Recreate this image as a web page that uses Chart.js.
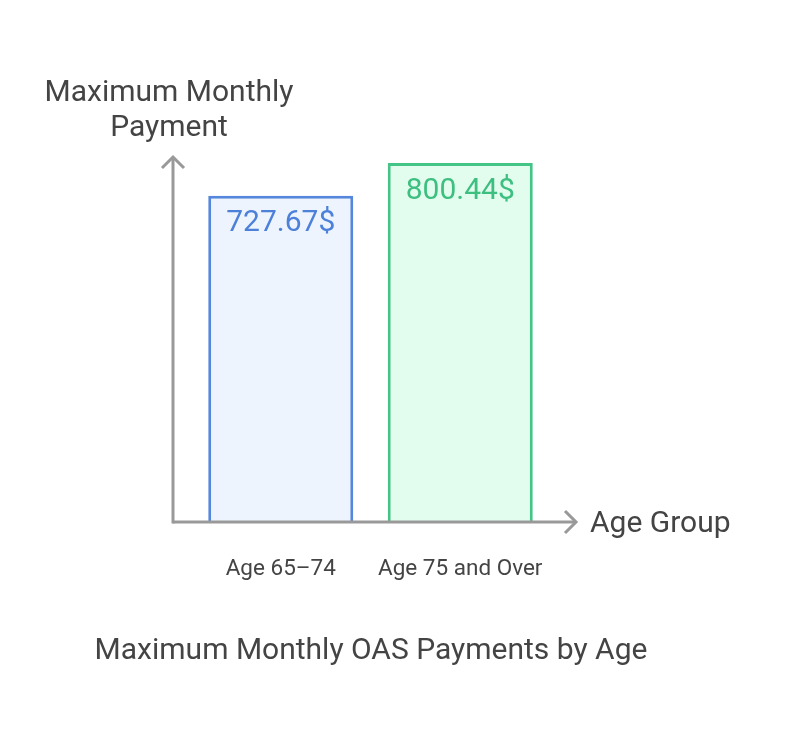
<!DOCTYPE html>
<html>
<head>
<meta charset="utf-8">
<script src="https://cdn.jsdelivr.net/npm/chart.js@4"></script>
<style>
  html, body { margin: 0; padding: 0; background: #fff; }
  #wrap { width: 786px; height: 741px; }
</style>
</head>
<body>
<div id="wrap"><canvas id="myChart"></canvas></div>
<script>
// data
const ageGroups = ["Age 65\u201374", "Age 75 and Over"];
const payments = [727.67, 800.44];
const barFills = ["#edf4fe", "#e2fcee"];
const barLines = ["#5587dc", "#45c487"];
const valueColors = ["#4c80d9", "#3dbf80"];

const yTitle = ["Maximum Monthly", "Payment"];
const xTitle = "Age Group";
const chartTitle = "Maximum Monthly OAS Payments by Age";

const FONT = "Roboto, 'Noto Sans', sans-serif";

// axes with arrows, titles and value labels
const decorPlugin = {
  id: "decor",
  afterDatasetsDraw(chart) {
    const ctx = chart.ctx;
    const area = chart.chartArea;
    const axisX = area.left - 18;
    const axisY = area.bottom;
    ctx.save();
    ctx.strokeStyle = "#999999";
    ctx.lineWidth = 3;
    ctx.lineCap = "butt";
    // y axis
    ctx.beginPath();
    ctx.moveTo(axisX, axisY + 1.5);
    ctx.lineTo(axisX, area.top);
    ctx.stroke();
    ctx.beginPath();
    ctx.moveTo(axisX - 11, area.top + 11);
    ctx.lineTo(axisX, area.top);
    ctx.lineTo(axisX + 11, area.top + 11);
    ctx.stroke();
    // x axis
    const xEnd = area.right + 26;
    ctx.beginPath();
    ctx.moveTo(axisX, axisY);
    ctx.lineTo(xEnd, axisY);
    ctx.stroke();
    ctx.beginPath();
    ctx.moveTo(xEnd - 11, axisY - 11);
    ctx.lineTo(xEnd, axisY);
    ctx.lineTo(xEnd - 11, axisY + 11);
    ctx.stroke();

    ctx.fillStyle = "#444444";
    ctx.textBaseline = "middle";
    ctx.font = "30px " + FONT;
    ctx.textAlign = "left";
    ctx.fillText(xTitle, xEnd + 14, axisY + 2);
    ctx.textAlign = "center";
    ctx.fillText(yTitle[0], axisX - 4, 93);
    ctx.fillText(yTitle[1], axisX - 4, 128);
    ctx.fillText(chartTitle, 371, 651);

    // value labels inside bars
    const meta = chart.getDatasetMeta(0);
    ctx.font = "30px " + FONT;
    meta.data.forEach(function (bar, i) {
      ctx.fillStyle = valueColors[i];
      ctx.fillText(payments[i].toFixed(2) + "$", bar.x, bar.y + 28);
    });
    ctx.restore();
  }
};

new Chart("myChart", {
  type: "bar",
  data: {
    labels: ageGroups,
    datasets: [{
      data: payments,
      backgroundColor: barFills,
      borderColor: barLines,
      borderWidth: 3,
      borderSkipped: "bottom",
      barPercentage: 1,
      categoryPercentage: 0.808
    }]
  },
  options: {
    responsive: true,
    maintainAspectRatio: false,
    animation: false,
    layout: {
      padding: { left: 191, right: 236, top: 157, bottom: 124 }
    },
    plugins: {
      legend: { display: false },
      tooltip: { enabled: false }
    },
    scales: {
      x: {
        grid: { display: false, drawTicks: false },
        border: { display: false },
        ticks: {
          color: "#444444",
          font: { family: FONT, size: 22.5 },
          padding: 34
        }
      },
      y: {
        display: false,
        min: 0,
        max: 814
      }
    }
  },
  plugins: [decorPlugin]
});
</script>
</body>
</html>
